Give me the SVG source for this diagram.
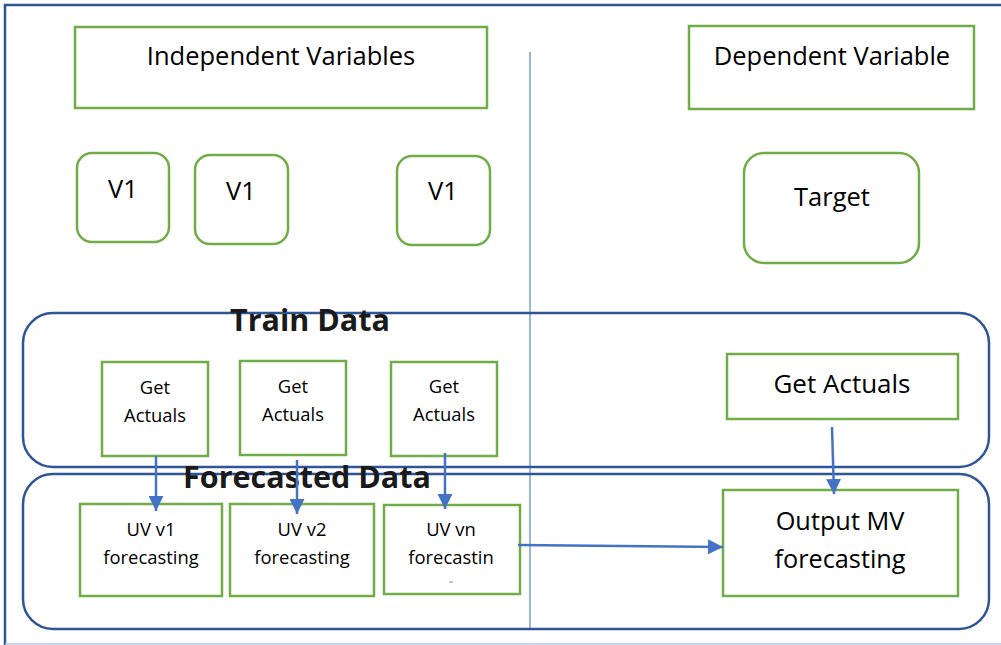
<svg xmlns="http://www.w3.org/2000/svg" width="1001" height="645" viewBox="0 0 1001 645">
<defs>
<marker id="ah" viewBox="0 0 10 10" refX="10" refY="5" markerWidth="6" markerHeight="6" markerUnits="strokeWidth" orient="auto">
<path d="M0,0 L10,5 L0,10 z" fill="#4472c4"/>
</marker>
</defs>
<style>
.g{fill:#fff;stroke:#70ad47;stroke-width:2.5}
.c{fill:none;stroke:#2f5597;stroke-width:2.5}
.t{font-family:"Open Sans","Liberation Sans",sans-serif;fill:#000;text-anchor:middle}
.s{font-size:18.4px}
.m{font-size:25.5px}
.b{font-family:"Open Sans","Liberation Sans",sans-serif;font-weight:bold;fill:#1a1a1a;text-anchor:middle;font-size:30.5px}
.a{stroke:#4472c4;stroke-width:2.5;fill:none;marker-end:url(#ah)}
</style>
<rect width="1001" height="645" fill="#fff"/>
<g id="frame">
<path d="M5,645 L5,5 L1001,5" fill="none" stroke="#2f5597" stroke-width="2.5"/>
<line x1="5" y1="644" x2="1001" y2="644" stroke="#b4c7e7" stroke-width="1.5"/>
<line x1="530" y1="52" x2="530" y2="630" stroke="#7a9fd6" stroke-width="1.5"/>
</g>
<g id="train-data">
<rect class="c" x="23" y="313" width="966" height="154" rx="30"/>
<text class="b" x="310" y="331">Train Data</text>
</g>
<g id="forecasted-data">
<rect class="c" x="23" y="474" width="966" height="155" rx="30"/>
<text class="b" x="307" y="488">Forecasted Data</text>
</g>
<g id="independent-variables">
<rect class="g" x="75" y="27" width="412" height="81"/>
<text class="t m" x="281" y="65">Independent Variables</text>
</g>
<g id="dependent-variable">
<rect class="g" x="689" y="26" width="285" height="83"/>
<text class="t m" x="832" y="65">Dependent Variable</text>
</g>
<g id="v1-a"><rect class="g" x="77" y="153" width="92" height="89" rx="15"/><text class="t m" x="123" y="198">V1</text></g>
<g id="v1-b"><rect class="g" x="195" y="155" width="93" height="89" rx="15"/><text class="t m" x="241" y="200">V1</text></g>
<g id="v1-c"><rect class="g" x="397" y="156" width="93" height="89" rx="15"/><text class="t m" x="443" y="200">V1</text></g>
<g id="target"><rect class="g" x="744" y="153" width="175" height="110" rx="20"/><text class="t m" x="832" y="206">Target</text></g>
<g id="get-actuals-1"><rect class="g" x="102" y="362" width="106" height="94"/><text class="t s" x="155" y="394">Get</text><text class="t s" x="155" y="422">Actuals</text></g>
<g id="get-actuals-2"><rect class="g" x="240" y="361" width="106" height="94"/><text class="t s" x="293" y="393">Get</text><text class="t s" x="293" y="421">Actuals</text></g>
<g id="get-actuals-3"><rect class="g" x="391" y="362" width="106" height="94"/><text class="t s" x="444" y="393">Get</text><text class="t s" x="444" y="421">Actuals</text></g>
<g id="get-actuals-target"><rect class="g" x="727" y="354" width="231" height="65"/><text class="t" x="842" y="393" font-size="26">Get Actuals</text></g>
<g id="uv-v1"><rect class="g" x="80" y="504" width="142" height="92"/><text class="t s" x="151" y="536">UV v1</text><text class="t s" x="151" y="564">forecasting</text></g>
<g id="uv-v2"><rect class="g" x="230" y="504" width="144" height="92"/><text class="t s" x="302" y="536">UV v2</text><text class="t s" x="302" y="564">forecasting</text></g>
<g id="uv-vn"><rect class="g" x="384" y="505" width="136" height="89"/><text class="t s" x="451" y="536">UV vn</text><text class="t s" x="451" y="564">forecastin</text><line x1="449" y1="582" x2="453" y2="582" stroke="#888" stroke-width="1"/></g>
<g id="output-mv"><rect class="g" x="723" y="490" width="235" height="106"/><text class="t" x="840" y="530" font-size="25.3">Output MV</text><text class="t" x="840" y="568" font-size="25.3">forecasting</text></g>
<g id="connectors">
<line class="a" x1="156" y1="456" x2="156" y2="511"/>
<line class="a" x1="297" y1="460" x2="297" y2="514"/>
<line class="a" x1="445" y1="453" x2="445" y2="509"/>
<line class="a" x1="832" y1="427" x2="834" y2="494"/>
<line class="a" x1="518" y1="545" x2="723" y2="547"/>
</g>
</svg>
